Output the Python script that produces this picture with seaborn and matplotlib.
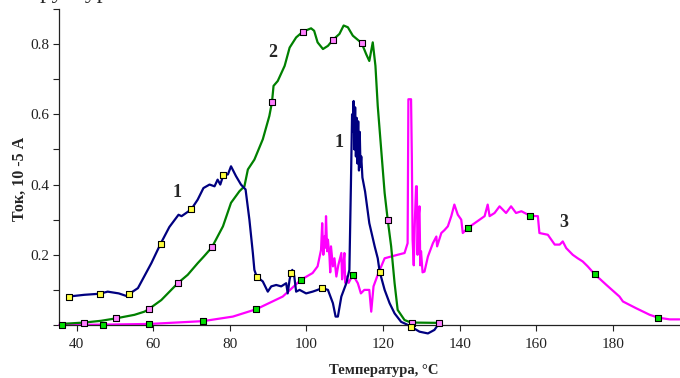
import numpy as np
import pandas as pd
import matplotlib
matplotlib.use("Agg")
import matplotlib.pyplot as plt
import seaborn as sns
from matplotlib.ticker import MultipleLocator

# curve 1 (navy)
temp_1 = [37.9, 42.0, 46.0, 48.1, 51.0, 52.9, 53.8, 56.0, 59.5, 61.9, 64.2, 66.6, 67.4,
          69.9, 71.6, 73.1, 74.7, 76.0, 76.8, 77.5, 78.3, 79.5, 80.3, 81.6, 82.9, 84.1,
          85.1, 86.0, 86.4, 87.0, 88.6, 89.9, 90.8, 92.1, 93.4, 94.7, 95.1, 95.6, 96.0,
          96.3, 96.8, 97.3, 98.2, 99.9, 101.6, 102.9, 104.1, 105.6, 106.9, 107.6, 108.2,
          109.1, 110.4, 111.2, 111.6, 111.9, 112.1, 112.3, 112.5, 112.7, 112.9, 113.1,
          113.3, 113.5, 113.7, 113.9, 114.1, 114.3, 114.6, 115.3, 116.4, 117.8, 118.6,
          119.1, 120.4, 121.7, 123.0, 124.7, 126.5, 127.3, 129.5, 131.7, 133.4, 134.3, 134.7]
cur_1 = [0.081, 0.086, 0.089, 0.095, 0.090, 0.083, 0.089, 0.105, 0.176, 0.231, 0.279, 0.314, 0.310,
         0.329, 0.357, 0.390, 0.400, 0.395, 0.414, 0.400, 0.427, 0.429, 0.452, 0.424, 0.400, 0.386,
         0.300, 0.205, 0.157, 0.138, 0.124, 0.095, 0.110, 0.114, 0.110, 0.119, 0.090, 0.130, 0.149,
         0.157, 0.140, 0.095, 0.100, 0.090, 0.095, 0.100, 0.105, 0.100, 0.062, 0.024, 0.024,
         0.081, 0.119, 0.157, 0.400, 0.600, 0.550, 0.638, 0.500, 0.620, 0.480, 0.590,
         0.460, 0.580, 0.440, 0.550, 0.450, 0.480, 0.420, 0.380, 0.290, 0.224, 0.190,
         0.152, 0.100, 0.062, 0.033, 0.009, 0.000, -0.005, -0.019, -0.024, -0.014, 0.000, 0.005]

# curve 2 (green)
temp_2 = [36.0, 42.0, 46.4, 50.3, 55.1, 57.7, 58.8, 62.1, 66.4, 69.0, 71.6, 73.2, 75.3,
          78.2, 80.3, 82.5, 83.8, 84.7, 86.4, 88.6, 90.3, 91.0, 91.4, 92.5, 94.3, 95.6,
          97.3, 99.0, 101.2, 102.0, 102.9, 104.3, 105.6, 106.9, 108.6, 109.7, 110.8,
          112.1, 114.4, 115.6, 116.4, 117.3, 118.0, 118.6, 119.5, 120.4, 121.2, 122.1,
          123.0, 123.8, 125.6, 127.3, 134.7]
cur_2 = [0.003, 0.007, 0.012, 0.019, 0.029, 0.038, 0.045, 0.071, 0.119, 0.143, 0.176, 0.195, 0.221,
         0.281, 0.348, 0.381, 0.395, 0.443, 0.471, 0.529, 0.595, 0.635, 0.681, 0.695, 0.738, 0.790,
         0.819, 0.835, 0.845, 0.838, 0.805, 0.786, 0.795, 0.812, 0.829, 0.853, 0.848,
         0.824, 0.803, 0.771, 0.752, 0.805, 0.738, 0.624, 0.500, 0.376, 0.300, 0.224,
         0.119, 0.043, 0.014, 0.007, 0.006]

# curve 3 (magenta)
temp_3 = [35.5, 46.4, 59.0, 73.0, 80.8, 86.9, 93.8, 98.6, 101.6, 102.9, 103.8, 104.1, 104.4,
          104.7, 104.9, 105.1, 105.4, 105.6, 106.0, 106.2, 106.4, 106.9, 107.3, 107.8, 108.3,
          109.1, 109.3, 109.5, 109.9, 110.1, 110.4, 111.0, 112.1, 113.4, 114.2, 115.1, 116.4,
          116.9, 117.5, 118.6, 120.4, 122.1, 123.8, 125.6, 126.4, 126.6, 127.3, 127.5, 127.7,
          128.0, 128.3, 128.6, 128.8, 129.0, 129.2, 129.5, 129.7, 129.9, 130.3, 130.8, 131.7,
          133.0, 133.9, 134.1, 135.2, 136.0, 136.9, 137.8, 138.6, 139.5, 140.4, 140.8, 142.1,
          143.9, 145.2, 146.5, 147.3, 147.8, 149.1, 150.4, 152.1, 153.4, 154.7, 156.1, 158.4,
          160.4, 160.8, 163.0, 164.8, 166.1, 166.9, 167.8, 169.5, 170.8, 172.1, 173.4, 175.2,
          178.3, 181.7, 182.6, 186.0, 189.6, 191.8, 194.8, 197.4]
cur_3 = [0.000, 0.001, 0.003, 0.011, 0.024, 0.045, 0.081, 0.129, 0.148, 0.167, 0.214, 0.290, 0.200,
         0.252, 0.220, 0.310, 0.210, 0.243, 0.195, 0.150, 0.224, 0.167, 0.190, 0.138, 0.170,
         0.205, 0.130, 0.157, 0.205, 0.120, 0.138, 0.120, 0.143, 0.119, 0.090, 0.100, 0.100,
         0.038, 0.110, 0.143, 0.190, 0.195, 0.200, 0.205, 0.233, 0.643, 0.643, 0.480, 0.243,
         0.170, 0.300, 0.395, 0.395, 0.200, 0.300, 0.338, 0.170, 0.210, 0.150, 0.152, 0.195,
         0.233, 0.252, 0.224, 0.262, 0.270, 0.281, 0.310, 0.343, 0.314, 0.300, 0.262, 0.276,
         0.290, 0.300, 0.310, 0.343, 0.310, 0.319, 0.338, 0.319, 0.338, 0.319, 0.324, 0.311,
         0.310, 0.262, 0.257, 0.229, 0.229, 0.238, 0.219, 0.200, 0.190, 0.181, 0.167, 0.145,
         0.114, 0.081, 0.067, 0.048, 0.029, 0.021, 0.016, 0.016]

# temperatures of the square point markers on each curve
mark_1 = [37.9, 46.0, 53.8, 61.9, 69.9, 78.3, 87.0, 96.0, 104.1, 119.1, 127.3]
mark_2 = [42.0, 50.3, 58.8, 66.4, 75.3, 91.0, 99.0, 106.9, 114.4, 121.2, 127.6, 134.7]
mark_3 = [36.2, 47.0, 59.0, 73.0, 86.9, 98.6, 112.1, 142.1, 158.4, 175.2, 191.8]

x_ticks = [40, 60, 80, 100, 120, 140, 160, 180]
y_ticks = [0.2, 0.4, 0.6, 0.8]

sns.set_theme(style="ticks")
plt.rcParams['font.family'] = ['Liberation Serif', 'DejaVu Serif']

fig = plt.figure(figsize=(6.8, 3.78), dpi=100)
ax = fig.add_axes([59 / 680, 53 / 378, 621 / 680, 316 / 378])

curves = [
    (temp_3, cur_3, mark_3, '#FF00FF', '#00E000'),
    (temp_2, cur_2, mark_2, '#008000', '#FF80FF'),
    (temp_1, cur_1, mark_1, '#000080', '#FFFF40'),
]
for t, c, m, line_col, face_col in curves:
    sns.lineplot(x=t, y=c, color=line_col, linewidth=1.6, sort=False,
                 estimator=None, ax=ax, clip_on=False)
    pts = pd.DataFrame({'T': m, 'I': np.interp(m, t, c)})
    sns.scatterplot(data=pts, x='T', y='I', marker='s', s=20, color=face_col,
                    edgecolor='black', linewidth=0.8, ax=ax, zorder=5, clip_on=False)

ax.set_xlim(35.4, 197.5)
ax.set_ylim(0, 0.9)
ax.set_xticks(x_ticks)
ax.set_yticks(y_ticks)
ax.yaxis.set_minor_locator(MultipleLocator(0.1))
ax.tick_params(axis='both', which='both', direction='out', length=4, width=0.8,
               labelsize=11, colors='#222222', pad=3)
ax.tick_params(axis='x', pad=5)
ax.set_xlabel('')
ax.set_ylabel('')
sns.despine(ax=ax)
for s in ['left', 'bottom']:
    ax.spines[s].set_linewidth(0.9)
    ax.spines[s].set_color('#222222')

# curve numbers
ax.text(66.3, 0.377, '1', fontsize=13, fontweight='bold', ha='center', va='center')
ax.text(108.6, 0.52, '1', fontsize=13, fontweight='bold', ha='center', va='center')
ax.text(91.1, 0.777, '2', fontsize=13, fontweight='bold', ha='center', va='center')
ax.text(167.1, 0.291, '3', fontsize=13, fontweight='bold', ha='center', va='center')

fig.text(0.029, 0.527, 'Ток, 10 -5 А', rotation=90, fontsize=11.5, fontweight='bold',
         ha='center', va='center')
fig.text(0.565, 0.019, 'Температура, °C', fontsize=10.5, fontweight='bold',
         ha='center', va='center')
fig.text(0.02, 1.006, 'Структура', fontsize=17, ha='left', va='baseline')

fig.savefig('out.png', dpi=100)
